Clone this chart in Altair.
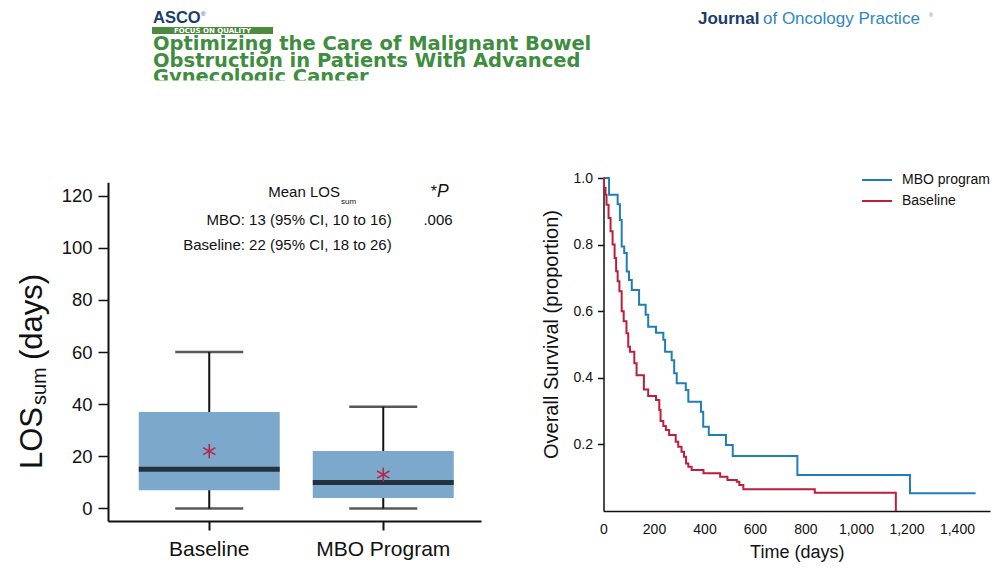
import altair as alt
import pandas as pd

# ---------------- data ----------------
box_groups = ["Baseline", "MBO Program"]
box_low = [0, 0]
box_q1 = [7, 4]
box_median = [15, 10]
box_q3 = [37, 22]
box_high = [60, 39]
box_mean = [22, 13]
box_y_ticks = [0, 20, 40, 60, 80, 100, 120]

km_series = ["MBO program", "Baseline"]
mbo_time = [0, 22, 56, 65, 72, 82, 92, 101, 112, 141, 167, 177, 208, 237, 244, 270,
            280, 290, 326, 336, 386, 395, 417, 485, 512, 768, 1214, 1474]
mbo_surv = [1.0, 0.95, 0.921, 0.874, 0.794, 0.775, 0.719, 0.694, 0.664, 0.619, 0.589,
            0.553, 0.535, 0.514, 0.478, 0.453, 0.414, 0.384, 0.363, 0.328, 0.298, 0.253,
            0.228, 0.198, 0.165, 0.108, 0.053, 0.053]
base_time = [0, 2, 8, 12, 20, 28, 36, 44, 50, 56, 63, 72, 80, 91, 98, 105, 122, 131, 160,
             177, 208, 221, 226, 237, 247, 260, 286, 296, 309, 319, 327, 336, 349, 396,
             462, 491, 528, 538, 554, 837, 1158]
base_surv = [1.0, 0.97, 0.95, 0.92, 0.88, 0.84, 0.80, 0.76, 0.72, 0.69, 0.66, 0.60, 0.57,
             0.534, 0.493, 0.478, 0.444, 0.408, 0.365, 0.345, 0.333, 0.303, 0.27, 0.255,
             0.243, 0.228, 0.208, 0.193, 0.178, 0.163, 0.143, 0.133, 0.123, 0.113, 0.103,
             0.093, 0.088, 0.078, 0.065, 0.055, 0.0]
km_x_ticks = [0, 200, 400, 600, 800, 1000, 1200, 1400]
km_y_ticks = [0.2, 0.4, 0.6, 0.8, 1.0]

header_lines = ["Optimizing the Care of Malignant Bowel",
                "Obstruction in Patients With Advanced",
                "Gynecologic Cancer"]
annot_lines = ["Mean LOS", "sum", "*", "P", "MBO: 13 (95% CI, 10 to 16)", ".006",
               "Baseline: 22 (95% CI, 18 to 26)"]
ytitle_parts = ["LOS", "sum", "(days)"]

# ---------------- styles ----------------
FONT = "Liberation Sans"
INK = "#111111"
BOX_FILL = "#7BA8CB"
MEAN_RED = "#B8284A"
BLUE = "#1F7EB6"
RED = "#BC1E3C"
GREEN = "#3F8D3F"
NAVY = "#1B3C6B"
AST = "M0,-1L0,1M-0.87,-0.5L0.87,0.5M-0.87,0.5L0.87,-0.5"

one = pd.DataFrame({"k": [0]})
base = alt.Chart(one)


def txt(s, x, y, size, color=INK, weight="normal", font=FONT, align="left",
        baseline="alphabetic", angle=None, style="normal"):
    kw = dict(text=s, fontSize=size, color=color, fontWeight=weight, font=font,
              align=align, baseline=baseline, fontStyle=style)
    if angle is not None:
        kw["angle"] = angle
    return base.mark_text(**kw).encode(x=alt.value(x), y=alt.value(y))


# ---------------- header ----------------
header = [
    txt("ASCO", 145, 15, 16.5, color=NAVY, weight="bold"),
    txt("®", 193, 8, 6, color=NAVY),
    base.mark_rect(color="#4C8B3F").encode(x=alt.value(144), x2=alt.value(265),
                                             y=alt.value(19), y2=alt.value(26)),
    txt("FOCUS ON QUALITY", 204.5, 23, 7, color="white", weight="bold",
        font="DejaVu Sans", align="center", baseline="middle"),
    txt(header_lines[0], 145, 42, 19.5, color=GREEN, weight="bold", font="DejaVu Sans"),
    txt(header_lines[1], 145, 58.5, 19.5, color=GREEN, weight="bold", font="DejaVu Sans"),
    txt(header_lines[2], 145, 75, 19.5, color=GREEN, weight="bold", font="DejaVu Sans"),
    base.mark_rect(color="white").encode(x=alt.value(130), x2=alt.value(780),
                                          y=alt.value(72.5), y2=alt.value(92)),
    txt("Journal", 690, 15.5, 17, color=NAVY, weight="bold"),
    txt("of Oncology Practice", 755, 15.5, 17, color="#2F86C3"),
    txt("®", 921, 9, 5, color="#2F86C3"),
]

# ---------------- left: box plot ----------------
box_df = pd.DataFrame({"group": box_groups, "low": box_low, "q1": box_q1,
                       "median": box_median, "q3": box_q3, "high": box_high,
                       "mean": box_mean})

bx_scale = alt.Scale(domain=box_groups, range=[100, 473], paddingInner=0,
                     paddingOuter=0.0718, align=0.57)
by_scale = alt.Scale(domain=[-4.8, 125.1], range=[513, 174.3], nice=False, zero=False)
bx_axis = alt.Axis(orient="bottom", offset=0, title=None, labelAngle=0, labelFontSize=21,
                   labelFont=FONT, labelColor=INK, labelPadding=8, tickSize=9,
                   tickWidth=2, tickColor=INK, domainColor=INK, domainWidth=2,
                   grid=False, labelOverlap=False)
by_axis = alt.Axis(orient="left", offset=-100, title=None, values=box_y_ticks,
                   labelFontSize=18.5, labelFont=FONT, labelColor=INK, labelPadding=6,
                   tickSize=10, tickWidth=1.5, tickColor=INK, domainColor=INK,
                   domainWidth=2, grid=False, labelOverlap=False)


def bx():
    return alt.X("group:N", scale=bx_scale, axis=bx_axis, sort=box_groups)


def by(f):
    return alt.Y(f"{f}:Q", scale=by_scale, axis=by_axis)


bchart = alt.Chart(box_df)
left = alt.layer(
    bchart.mark_rule(color=INK, strokeWidth=2).encode(x=bx(), y=by("low"), y2="high:Q"),
    bchart.mark_bar(size=141, color=BOX_FILL).encode(x=bx(), y=by("q1"), y2="q3:Q"),
    bchart.mark_tick(size=68, thickness=2.5, color=INK).encode(x=bx(), y=by("low")),
    bchart.mark_tick(size=68, thickness=2.5, color=INK).encode(x=bx(), y=by("high")),
    bchart.mark_tick(size=141, thickness=5, color="#000000").encode(x=bx(), y=by("median")),
    bchart.mark_point(shape=AST, size=200, filled=False, color=MEAN_RED, strokeWidth=1.6,
                      opacity=1).encode(x=bx(), y=by("mean")),
)

annot = [
    txt(annot_lines[0], 332, 188.5, 15, align="right"),
    txt(annot_lines[1], 333, 196, 8, align="left"),
    txt(annot_lines[2], 429, 189, 16, align="right"),
    txt(annot_lines[3], 429, 189, 17.5, align="left", style="italic"),
    txt(annot_lines[4], 383.7, 217, 15, align="right"),
    txt(annot_lines[5], 430, 217, 15, align="center"),
    txt(annot_lines[6], 383.7, 242, 15, align="right"),
    txt(ytitle_parts[0], 34, 461, 31, angle=270),
    txt(ytitle_parts[1], 37.5, 397, 20, angle=270),
    txt(ytitle_parts[2], 34, 352, 31, angle=270),
]

# ---------------- right: Kaplan-Meier ----------------
km_df = pd.DataFrame({
    "time": mbo_time + base_time,
    "surv": mbo_surv + base_surv,
    "series": [km_series[0]] * len(mbo_time) + [km_series[1]] * len(base_time),
})

kx_scale = alt.Scale(domain=[0, 1531], range=[595.5, 982], nice=False, zero=False)
ky_scale = alt.Scale(domain=[0, 1], range=[503, 170], nice=False, zero=False)
kx_axis = alt.Axis(orient="bottom", offset=-10, values=km_x_ticks, format=",d",
                   title="Time (days)", titleFont=FONT, titleFontSize=18,
                   titleFontWeight="normal", titleColor=INK, titleY=32,
                   titleBaseline="top", labelFontSize=14, labelFont=FONT,
                   labelColor=INK, ticks=False, tickSize=0, labelPadding=11,
                   domainColor=INK, domainWidth=1.5, grid=False, labelFlush=False,
                   labelOverlap=False)
ky_axis = alt.Axis(orient="left", offset=-595.5, values=km_y_ticks, format=".1f",
                   title="Overall Survival (proportion)", titleFont=FONT,
                   titleFontSize=20, titleFontWeight="normal", titleColor=INK,
                   titleX=-42.5, titleY=326, titleBaseline="bottom",
                   labelFontSize=14, labelFont=FONT, labelColor=INK, labelPadding=5,
                   tickSize=6, tickWidth=1.5, tickColor=INK, domainColor=INK,
                   domainWidth=1.5, grid=False, labelOverlap=False)

right = alt.Chart(km_df).mark_line(interpolate="step-after", strokeWidth=2).encode(
    x=alt.X("time:Q", scale=kx_scale, axis=kx_axis),
    y=alt.Y("surv:Q", scale=ky_scale, axis=ky_axis),
    color=alt.Color("series:N", scale=alt.Scale(domain=km_series, range=[BLUE, RED]),
                    sort=km_series,
                    legend=alt.Legend(orient="none", legendX=857.5, legendY=160.5,
                                      title=None, symbolType="M-1.43,0H1.43",
                                      symbolSize=441, symbolStrokeWidth=2,
                                      labelFont=FONT, labelFontSize=14,
                                      labelColor=INK, labelOffset=13.5,
                                      rowPadding=2, padding=0, offset=0)),
)

chart = alt.layer(
    *header, *annot, left, right
).resolve_scale(
    x="independent", y="independent"
).resolve_axis(
    x="independent", y="independent"
).properties(
    width=984, height=513,
    autosize=alt.AutoSizeParams(type="none"),
    padding={"left": 0, "top": 0, "right": 0, "bottom": 41},
    background="white",
).configure_view(stroke=None)

chart.save("out.html", embed_options={"renderer": "svg", "actions": False})
